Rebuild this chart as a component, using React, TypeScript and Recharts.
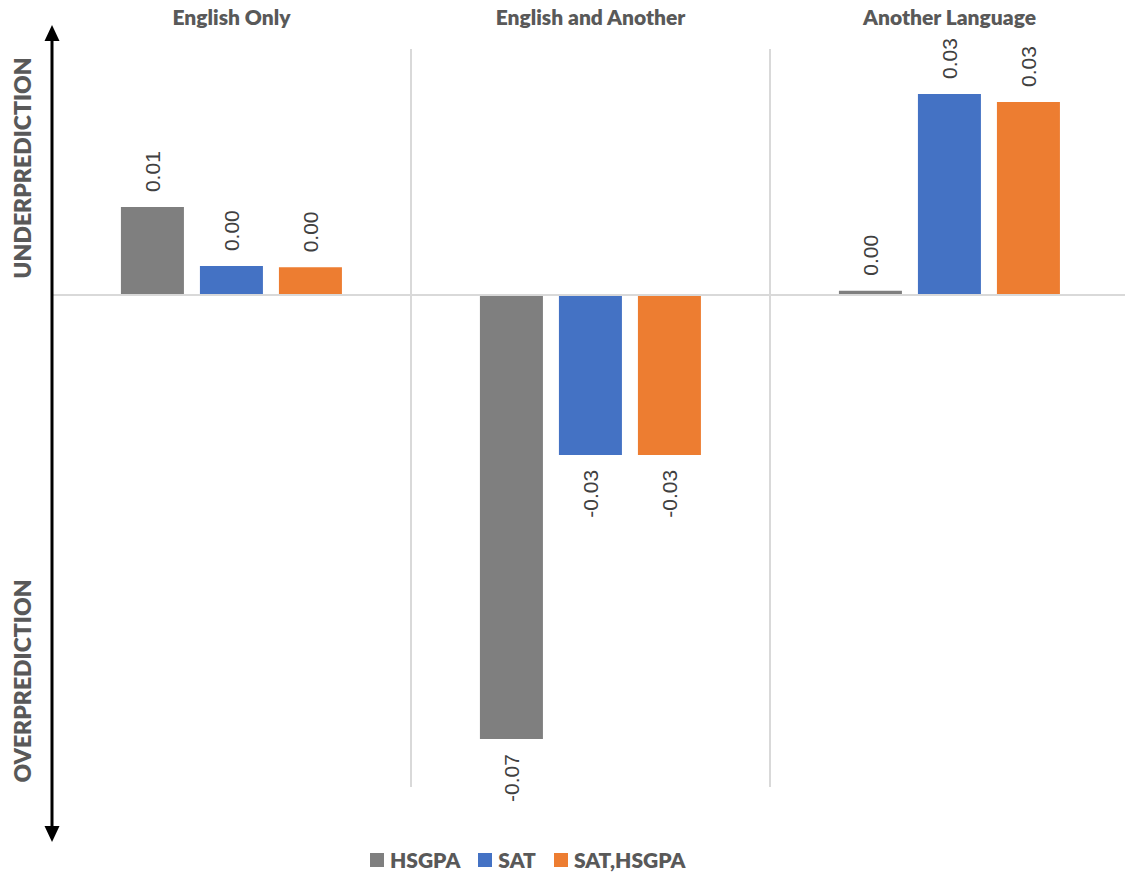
import React from 'react';
import { BarChart, Bar, XAxis, YAxis, ReferenceLine, LabelList, CartesianGrid } from 'recharts';

const categories = ['English Only', 'English and Another', 'Another Language'];
const hsgpa = [0.0143, -0.0722, 0.0007];
const sat = [0.0047, -0.026, 0.0327];
const satHsgpa = [0.0045, -0.026, 0.0314];

const series = [
  { key: 'HSGPA', values: hsgpa, color: '#7f7f7f' },
  { key: 'SAT', values: sat, color: '#4472c4' },
  { key: 'SAT,HSGPA', values: satHsgpa, color: '#ed7d31' },
];

const data = categories.map((name, i) => {
  const row: any = { name };
  series.forEach((s) => (row[s.key] = s.values[i]));
  return row;
});

const TEXT = '#595959';
const BOLD = 'Lato, "Open Sans", sans-serif';

const CategoryTick = (props: any) => {
  const { x, payload } = props;
  return (
    <text x={x} y={25} textAnchor="middle" fill={TEXT} fontSize={21} fontWeight={800} fontFamily={BOLD}>
      {payload.value}
    </text>
  );
};

// rotated value label, above positive bars and below negative ones
const ValueLabel = (props: any) => {
  const { x, y, width, height, value } = props;
  const cx = x + width / 2;
  const top = Math.min(y, y + height);
  const bottom = Math.max(y, y + height);
  const neg = value < 0;
  const ly = neg ? bottom + 15 : top - 15;
  return (
    <text
      x={cx}
      y={ly}
      transform={`rotate(-90, ${cx}, ${ly})`}
      textAnchor={neg ? 'end' : 'start'}
      dominantBaseline="central"
      fill="#404040"
      fontSize={21}
      fontFamily='"Liberation Sans", Arial, sans-serif'
    >
      {Number(value).toFixed(2)}
    </text>
  );
};

// vertical separators between the category groups
const separators = ({ offset }: any) =>
  categories.slice(1).map((_, i) => offset.left + ((i + 1) * offset.width) / categories.length);

export default function App() {
  return (
    <div style={{ position: 'absolute', left: 0, top: 0, width: 1125, height: 878, overflow: 'hidden', background: '#fff' }}>
      <BarChart
        width={1129}
        height={878}
        data={data}
        margin={{ top: 0, right: 0, bottom: 91, left: 52 }}
        barCategoryGap="19.2%"
        barGap={16}
      >
        <CartesianGrid
          horizontal={false}
          vertical
          stroke="#d9d9d9"
          strokeWidth={2}
          verticalCoordinatesGenerator={separators}
        />
        <XAxis
          dataKey="name"
          orientation="top"
          height={49}
          axisLine={false}
          tickLine={false}
          tick={<CategoryTick />}
          interval={0}
        />
        <YAxis domain={[-0.08, 0.04]} hide />
        <ReferenceLine y={0} stroke="#d9d9d9" strokeWidth={2} />
        {series.map((s) => (
          <Bar key={s.key} dataKey={s.key} fill={s.color} isAnimationActive={false}>
            <LabelList dataKey={s.key} content={<ValueLabel />} />
          </Bar>
        ))}
      </BarChart>
      <svg width={1125} height={878} style={{ position: 'absolute', left: 0, top: 0, pointerEvents: 'none' }}>
        <line x1={52} y1={38} x2={52} y2={829} stroke="#000" strokeWidth={3} />
        <polygon points="52,25 44.5,41 59.5,41" fill="#000" />
        <polygon points="52,842 44.5,826 59.5,826" fill="#000" />
        <text x={22} y={168} transform="rotate(-90, 22, 168)" textAnchor="middle" dominantBaseline="central"
          fill={TEXT} fontSize={23} fontWeight={800} fontFamily={BOLD}>
          UNDERPREDICTION
        </text>
        <text x={22} y={681} transform="rotate(-90, 22, 681)" textAnchor="middle" dominantBaseline="central"
          fill={TEXT} fontSize={23} fontWeight={800} fontFamily={BOLD}>
          OVERPREDICTION
        </text>
      </svg>
      <div style={{ position: 'absolute', left: 370, top: 848, display: 'flex', gap: 18, fontFamily: BOLD, fontWeight: 800, fontSize: 21, color: TEXT }}>
        {series.map((s) => (
          <span key={s.key} style={{ display: 'flex', alignItems: 'center', gap: 6, lineHeight: '24px' }}>
            <span style={{ width: 14, height: 14, background: s.color, display: 'inline-block' }} />
            {s.key}
          </span>
        ))}
      </div>
    </div>
  );
}
